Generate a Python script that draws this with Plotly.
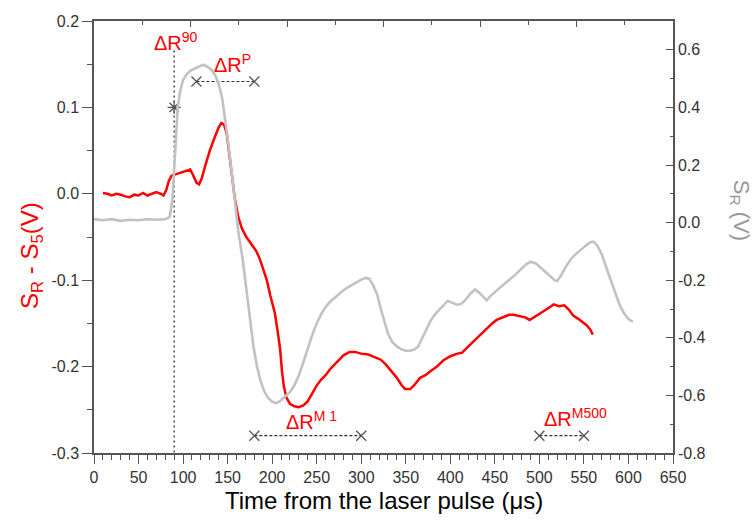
import plotly.graph_objects as go

# ---- data ----
red_x = [10, 15, 20, 25, 30, 35, 40, 45, 50, 55, 60, 65, 70, 75, 78, 81, 84, 87, 90, 95,
         100, 105, 108, 111, 115, 118, 121, 125, 130, 135, 140, 143, 146, 149, 152, 155, 158,
         162, 166, 171, 177, 182, 186, 190, 194, 198, 203, 206, 209, 211, 213, 216, 220, 225,
         230, 235, 240, 245, 250, 255, 260, 265, 270, 275, 280, 287, 293, 300, 308, 315, 322,
         328, 334, 340, 345, 349, 355, 360, 366, 372, 378, 385, 392, 400, 408, 413, 418, 425,
         433, 440, 447, 452, 460, 466, 471, 478, 484, 489, 494, 500, 506, 512, 516, 522, 528,
         533, 538, 544, 549, 553, 557, 560]
red_y = [0.001, 0.000, -0.002, 0.000, -0.001, -0.003, -0.004, -0.001, -0.002, 0.001, -0.002,
         0.000, 0.002, 0.000, -0.002, 0.004, 0.015, 0.021, 0.022, 0.024, 0.025, 0.027, 0.028,
         0.022, 0.013, 0.011, 0.018, 0.033, 0.050, 0.064, 0.077, 0.082, 0.080, 0.070, 0.045,
         0.018, -0.005, -0.027, -0.040, -0.050, -0.058, -0.066, -0.075, -0.087, -0.100, -0.118,
         -0.138, -0.158, -0.180, -0.205, -0.222, -0.236, -0.243, -0.246, -0.247, -0.245, -0.240,
         -0.231, -0.222, -0.215, -0.210, -0.203, -0.198, -0.192, -0.187, -0.183, -0.183, -0.185,
         -0.186, -0.189, -0.192, -0.198, -0.205, -0.213, -0.221, -0.226, -0.226, -0.221, -0.213,
         -0.210, -0.205, -0.200, -0.193, -0.188, -0.185, -0.184, -0.179, -0.172, -0.163, -0.157,
         -0.150, -0.146, -0.143, -0.140, -0.140, -0.142, -0.143, -0.146, -0.143, -0.139, -0.135,
         -0.131, -0.128, -0.130, -0.129, -0.134, -0.141, -0.145, -0.149, -0.152, -0.157, -0.163]

gray_x = [0, 10, 20, 30, 40, 50, 60, 70, 80, 85, 88, 91, 94, 97, 100, 104, 108, 113, 118, 123,
          128, 132, 136, 140, 144, 148, 151, 154, 158, 162, 167, 171, 175, 179, 183, 187, 191,
          195, 200, 205, 210, 215, 220, 225, 230, 235, 240, 245, 250, 255, 260, 265, 270, 275,
          280, 285, 290, 295, 300, 305, 309, 313, 318, 322, 326, 330, 335, 340, 345, 350, 355,
          360, 364, 368, 373, 378, 383, 388, 393, 397, 402, 407, 412, 418, 423, 428, 433, 438,
          441, 445, 450, 456, 462, 468, 474, 480, 485, 490, 496, 501, 506, 512, 517, 520, 525,
          530, 535, 540, 546, 552, 557, 561, 565, 570, 575, 580, 585, 590, 595, 600, 605]
gray_y = [0.012, 0.008, 0.012, 0.006, 0.010, 0.008, 0.012, 0.010, 0.012, 0.020, 0.080, 0.250,
          0.400, 0.460, 0.495, 0.515, 0.527, 0.535, 0.542, 0.548, 0.540, 0.530, 0.512, 0.482,
          0.430, 0.345, 0.270, 0.190, 0.080, -0.030, -0.130, -0.230, -0.330, -0.430, -0.500,
          -0.550, -0.585, -0.607, -0.622, -0.627, -0.617, -0.604, -0.588, -0.565, -0.530, -0.485,
          -0.435, -0.390, -0.350, -0.318, -0.293, -0.275, -0.262, -0.248, -0.235, -0.225, -0.215,
          -0.208, -0.198, -0.192, -0.195, -0.215, -0.250, -0.300, -0.345, -0.385, -0.415, -0.430,
          -0.440, -0.445, -0.445, -0.440, -0.430, -0.405, -0.370, -0.340, -0.318, -0.302, -0.285,
          -0.272, -0.278, -0.285, -0.283, -0.265, -0.245, -0.232, -0.245, -0.262, -0.270, -0.255,
          -0.240, -0.225, -0.210, -0.195, -0.178, -0.160, -0.145, -0.136, -0.142, -0.155, -0.170,
          -0.188, -0.200, -0.203, -0.180, -0.152, -0.128, -0.112, -0.095, -0.080, -0.068, -0.066,
          -0.080, -0.110, -0.155, -0.200, -0.245, -0.285, -0.315, -0.335, -0.345]

x_ticks = [0, 50, 100, 150, 200, 250, 300, 350, 400, 450, 500, 550, 600, 650]
yl_ticks = [-0.3, -0.2, -0.1, 0.0, 0.1, 0.2]
yr_ticks = [-0.8, -0.6, -0.4, -0.2, 0.0, 0.2, 0.4, 0.6]

# interval annotations (x start, x end, y on left axis)
d90_x = 90
d90_star_y = 0.1
d90_line_y = [0.166, -0.3]
dP = (115, 180, 0.13)
dM1 = (180, 300, -0.28)
dM500 = (500, 550, -0.28)
labels = [
    ("ΔR<sup>90</sup>", 92, 0.176),
    ("ΔR<sup>P</sup>", 156, 0.151),
    ("ΔR<sup>M 1</sup>", 244, -0.262),
    ("ΔR<sup>M500</sup>", 540, -0.259),
]

FONT = "Arial, Liberation Sans, sans-serif"
AX = "#555555"

def fmt(v):
    return f"{v:.1f}"

fig = go.Figure()

fig.add_trace(go.Scatter(x=gray_x, y=gray_y, mode="lines", yaxis="y2",
                         line=dict(color="#c2c2c2", width=2.6), showlegend=False, hoverinfo="skip"))
fig.add_trace(go.Scatter(x=red_x, y=red_y, mode="lines",
                         line=dict(color="#ff0000", width=2.5), showlegend=False, hoverinfo="skip"))

# vertical dotted line for ΔR90
fig.add_trace(go.Scatter(x=[d90_x, d90_x], y=d90_line_y, mode="lines",
                         line=dict(color="#333333", width=1.3, dash="2px,3px"),
                         showlegend=False, hoverinfo="skip"))
fig.add_trace(go.Scatter(x=[d90_x], y=[d90_star_y], mode="markers",
                         marker=dict(symbol="asterisk-open", size=11, color="#555555",
                                     line=dict(color="#555555", width=1.3)),
                         showlegend=False, hoverinfo="skip"))
for (xa, xb, yy) in [dP, dM1, dM500]:
    fig.add_trace(go.Scatter(x=[xa, xb], y=[yy, yy], mode="lines+markers",
                             line=dict(color="#333333", width=1.2, dash="3px,2px"),
                             marker=dict(symbol="x-thin-open", size=10, color="#555555",
                                         line=dict(color="#555555", width=1.3)),
                             showlegend=False, hoverinfo="skip"))

# dummy trace for top axis
fig.add_trace(go.Scatter(x=[None], y=[None], xaxis="x2", showlegend=False, hoverinfo="skip"))

for txt, xx, yy in labels:
    fig.add_annotation(x=xx, y=yy, xref="x", yref="y", text=txt, showarrow=False,
                       font=dict(family=FONT, size=20, color="#ff0000"),
                       xanchor="center", yanchor="middle")

# axis titles
fig.add_annotation(x=0.5, y=-0.109, xref="paper", yref="paper", showarrow=False,
                   text="Time from the laser pulse (μs)",
                   font=dict(family=FONT, size=24, color="#000000"),
                   xanchor="center", yanchor="middle")
fig.add_annotation(x=-0.109, y=0.458, xref="paper", yref="paper", showarrow=False,
                   text="S<sub>R</sub> - S<sub>5</sub>(V)", textangle=-90,
                   font=dict(family=FONT, size=24, color="#ff0000"),
                   xanchor="center", yanchor="middle")
fig.add_annotation(x=1.116, y=0.5625, xref="paper", yref="paper", showarrow=False,
                   text="S<sub>R</sub> (V)", textangle=90,
                   font=dict(family=FONT, size=22, color="#999999"),
                   xanchor="center", yanchor="middle")

tickfont = dict(family=FONT, size=16, color="#333333")

fig.update_layout(
    width=753, height=521,
    margin=dict(l=94, r=80, t=21, b=68),
    paper_bgcolor="white", plot_bgcolor="white",
    showlegend=False,
    xaxis=dict(range=[0, 650], tickvals=x_ticks, ticktext=[str(v) for v in x_ticks],
               ticks="outside", ticklen=9, tickwidth=1.3, tickcolor=AX,
               minor=dict(dtick=10, tick0=0, ticks="outside", ticklen=5, tickwidth=1.2, tickcolor=AX),
               showline=True, linecolor=AX, linewidth=1.5, showgrid=False, zeroline=False,
               tickfont=tickfont),
    xaxis2=dict(overlaying="x", side="top", anchor="y", range=[0, 12], dtick=2, tick0=0,
                ticks="inside", ticklen=6, tickwidth=1.3, tickcolor=AX,
                minor=dict(dtick=1, ticks="inside", ticklen=4, tickwidth=1.2, tickcolor=AX),
                showline=True, linecolor=AX, linewidth=1.5, showgrid=False, zeroline=False,
                showticklabels=False),
    yaxis=dict(range=[-0.3, 0.2], tickvals=yl_ticks, ticktext=[fmt(v) for v in yl_ticks],
               ticks="outside", ticklen=10, tickwidth=1.3, tickcolor=AX,
               minor=dict(dtick=0.05, tick0=0, ticks="outside", ticklen=5, tickwidth=1.2, tickcolor=AX),
               showline=True, linecolor=AX, linewidth=1.5, showgrid=False, zeroline=False,
               tickfont=tickfont),
    yaxis2=dict(overlaying="y", side="right", anchor="x", range=[-0.8, 0.7],
                tickvals=yr_ticks, ticktext=[fmt(v) for v in yr_ticks],
                ticks="inside", ticklen=7, tickwidth=1.3, tickcolor=AX,
                minor=dict(dtick=0.1, tick0=0, ticks="inside", ticklen=3, tickwidth=1.2, tickcolor=AX),
                showline=True, linecolor=AX, linewidth=1.5, showgrid=False, zeroline=False,
                tickfont=tickfont),
)

fig.write_html("out.html")
